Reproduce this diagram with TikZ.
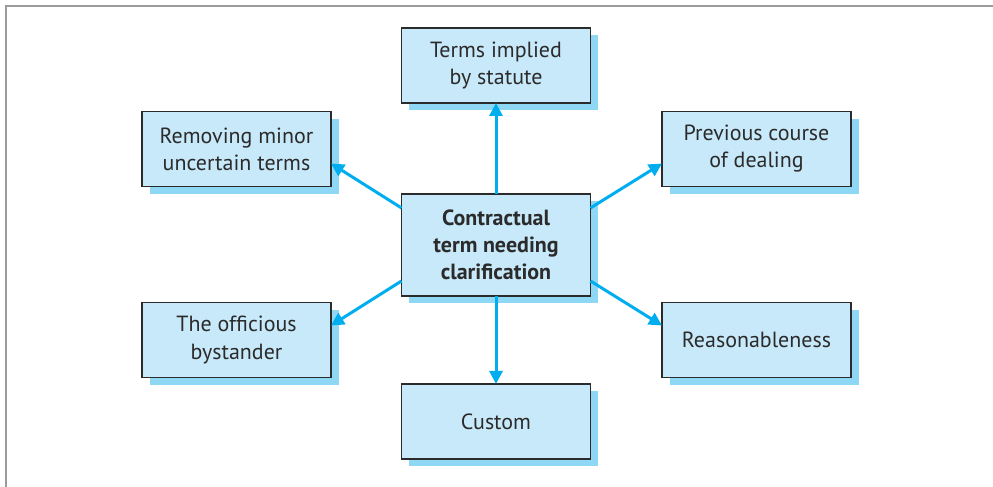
\documentclass[tikz,border=0pt]{standalone}
\usepackage{fontspec}
\setmainfont{PT Sans}
\usetikzlibrary{arrows.meta, shadows}
\definecolor{f}{HTML}{C8E9F9}
\definecolor{s}{HTML}{8ED8F6}
\definecolor{a}{HTML}{00AEEF}
\definecolor{k}{HTML}{2B2B2B}
\definecolor{g}{HTML}{9B9B9D}
\begin{document}
\begin{tikzpicture}[
		box/.style={draw=k, line width=0.6pt, fill=f, rectangle, minimum width=3.78cm, minimum height=1.5cm, inner sep=0pt, outer sep=0pt, align=center,
			font=\fontsize{12.5}{15.4}\selectfont, text=k,
			general shadow={fill=s, shadow xshift=0.15cm, shadow yshift=-0.15cm}},
		arrow/.style={draw=a, line width=1.7pt, -{Triangle[length=0.26cm,width=0.26cm]}}
	]
	\useasboundingbox (0,0) rectangle (19.86,9.74);

	% frame
	\draw[g, line width=1.1pt] (0.12,0) -- (0.12,9.62) -- (19.86,9.62);

	% centre
	\node[box, minimum height=2.04cm, font=\fontsize{12.5}{15.4}\selectfont\bfseries] (term) at (9.92, 4.84) {Contractual\\term needing\\clarification};

	% outer boxes
	\node[box] (statute) at (9.92, 8.43) {Terms implied\\by statute};
	\node[box] (custom) at (9.92, 1.31) {Custom};
	\node[box] (minor) at (4.73, 6.76) {Removing minor\\uncertain terms};
	\node[box] (dealing) at (15.13, 6.76) {Previous course\\of dealing};
	\node[box] (bystander) at (4.73, 2.94) {The officious\\bystander};
	\node[box] (reasonable) at (15.13, 2.94) {Reasonableness};

	% arrows
	\draw[arrow] (term.north) -- (statute.south);
	\draw[arrow] (term.south) -- (custom.north);
	\draw[arrow] ([yshift=-0.28cm]term.north west) -- ([yshift=0.46cm]minor.south east);
	\draw[arrow] ([yshift=-0.28cm]term.north east) -- ([yshift=0.46cm]dealing.south west);
	\draw[arrow] ([yshift=0.3cm]term.south west) -- ([yshift=-0.46cm]bystander.north east);
	\draw[arrow] ([yshift=0.3cm]term.south east) -- ([yshift=-0.46cm]reasonable.north west);

\end{tikzpicture}
\end{document}
